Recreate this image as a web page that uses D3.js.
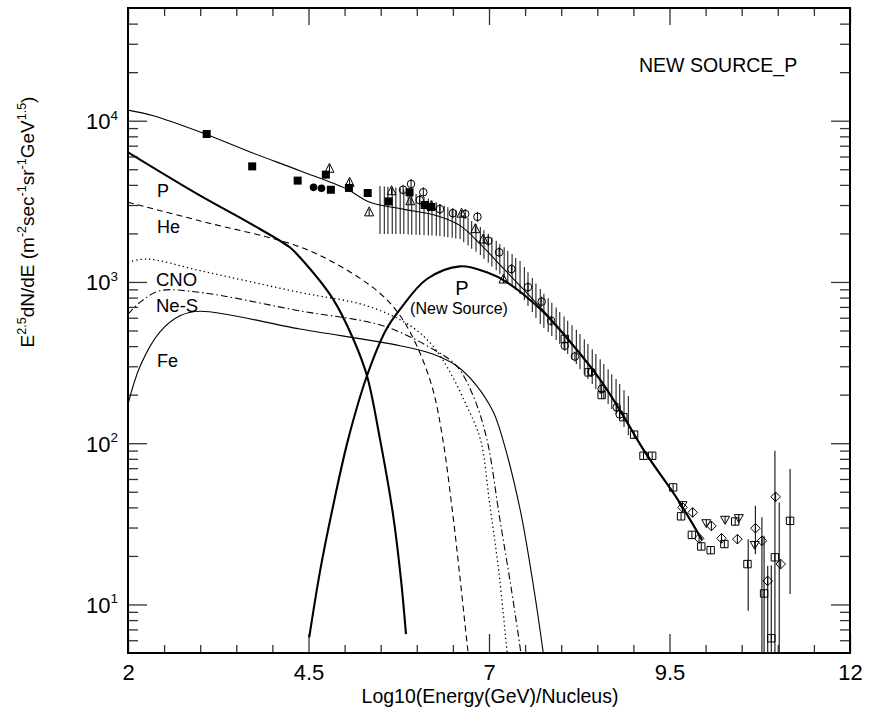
<!DOCTYPE html>
<html><head><meta charset="utf-8">
<script src="https://cdn.jsdelivr.net/npm/d3@7"></script>
<style>
body{margin:0;background:#fff;}
svg{display:block;font-family:"Liberation Sans",Arial,Helvetica,sans-serif;}
</style></head><body>
<svg id="chart" width="872" height="728"></svg>
<script>
// ---------- data (x = log10 E [GeV/nucleus], y = E^2.5 dN/dE) ----------
const curveTotal = [[2.0,11640],[2.35,10740],[3.0,8510],[3.69,6400],[4.38,4900],[5.03,3770],[5.35,3120],[5.81,2830],[6.28,2575],[6.6,2235],[6.88,1718],[7.21,1200],[7.71,698],[8.16,412],[8.54,250],[8.81,163],[9.16,89],[9.6,46],[9.95,25.4]];
const curveP = [[2.0,6370],[3.0,3430],[3.69,2310],[4.24,1641],[4.38,1422],[4.84,783],[5.12,443],[5.31,262],[5.49,106],[5.67,36.3],[5.78,14.4],[5.85,6.55]];
const curveHe = [[2.0,3120],[3.0,2390],[4.38,1650],[5.08,1150],[5.53,820],[5.77,617],[6.0,402],[6.22,217],[6.36,106],[6.49,39],[6.6,14.4],[6.71,5.06],[6.74,3.96]];
const curveCNO = [[2.0,1324],[2.26,1387],[3.0,1175],[4.38,861],[5.31,711],[5.91,535],[6.22,402],[6.46,276],[6.69,171],[6.88,106],[7.01,41.9],[7.14,15.4],[7.25,5.06],[7.28,3.69]];
const curveNeS = [[2.0,632],[2.17,750],[2.44,881],[3.0,861],[4.38,662],[5.53,535],[6.22,384],[6.55,302],[6.78,197],[6.97,106],[7.15,33.8],[7.31,12.4],[7.44,5.06],[7.47,3.96]];
const curveFe = [[2.0,175],[2.17,302],[2.44,489],[2.72,617],[3.0,658],[4.38,511],[5.77,402],[6.22,357],[6.55,302],[6.83,227],[7.06,156],[7.19,106],[7.43,39],[7.6,14.4],[7.75,5.06],[7.78,3.96]];
const curveNewP = [[4.51,6.25],[4.66,16.1],[4.84,40.7],[5.05,106],[5.31,262],[5.58,511],[5.77,679],[6.14,1043],[6.6,1250],[6.97,1148],[7.25,995],[7.71,679],[8.16,406],[8.54,247],[8.81,161],[9.16,88],[9.6,45.7],[9.95,25.1]];

// shaded band of vertical bars
const bandX = [5.49,5.55,5.60,5.66,5.71,5.77,5.82,5.88,5.93,5.99,6.04,6.10,6.16,6.21,6.27,6.32,6.38,6.43,6.49,6.54,6.60,6.65,6.71,6.76,6.82,6.88,6.93,6.99,7.04,7.10,7.15,7.21,7.26,7.32,7.37,7.43,7.49,7.54,7.60,7.65,7.71,7.76,7.82,7.87,7.93,7.98,8.04,8.09,8.15,8.21,8.26,8.32,8.37,8.43,8.48,8.54,8.59,8.65,8.70,8.76,8.81,8.87,8.93];
const bandHigh = [3930,3910,3890,3870,3850,3820,3750,3670,3600,3530,3460,3370,3290,3200,3120,3040,2970,2910,2840,2780,2710,2600,2490,2390,2290,2190,2090,1990,1890,1800,1720,1640,1560,1490,1410,1350,1240,1150,1060,979,904,846,792,742,695,651,611,574,539,506,475,442,412,383,357,332,310,288,268,250,233,213,196];
const bandLow = [1980,1980,1980,1980,1980,1980,1980,1970,1965,1960,1954,1949,1943,1938,1932,1926,1910,1894,1878,1861,1845,1763,1684,1609,1537,1469,1391,1318,1248,1182,1120,1057,999,943,891,841,772,709,651,597,548,518,489,462,436,412,383,357,332,310,288,268,250,233,217,202,188,175,163,152,141,126,112];

// measured points
const filledSquares = [[3.09,8270],[3.72,5210],[4.35,4250],[4.74,4630],[4.81,3730],[5.06,3830],[5.32,3560],[5.61,3160],[5.90,3600],[6.11,3000],[6.20,2915]];
const filledCircles = [[4.57,3860],[4.68,3810]];
const openTriangles = [[4.79,5070],[5.07,4150],[5.34,2720],[5.65,3680],[5.91,3190],[6.20,2970],[6.62,2670],[6.81,2140],[6.92,1845],[7.20,1043]];
const openCircles = [[5.81,3730],[5.92,4050],[6.09,3600],[6.04,3220],[6.32,2830],[6.50,2670],[6.67,2640],[6.84,2535],[6.99,1800],[7.14,1527],[7.31,1202],[7.54,929],[7.73,755],[7.86,574],[8.05,402],[8.19,345],[8.42,277],[8.56,217],[8.77,167],[8.81,151]];
const openSquares = [[8.05,443],[8.38,275],[8.56,199],[8.86,145],[9.01,113],[9.14,83.6],[9.26,83.6],[9.55,53.2],[9.66,35.2],[9.81,27.0],[9.94,22.9],[10.07,21.7],[10.26,23.7],[10.41,32.7],[10.58,17.8],[10.81,11.7],[10.91,6.17],[10.96,19.6],[11.17,33.0]];
const openDiamonds = [[9.68,40.0],[9.82,37.2],[10.08,30.7],[9.91,25.7],[10.22,25.7],[10.44,25.4],[10.69,29.7],[10.78,24.8],[10.86,14.0],[10.97,46.5],[11.04,17.8]];
const downTriangles = [[9.68,41.3],[10.01,31.9],[10.27,33.5],[10.46,34.3],[10.68,23.4]];
// error bars [x, low, high]
const errorBars = [[10.59,9.13,25.4],[10.69,20.5,40.9],[10.78,1,34.7],[10.81,1,26.7],[10.86,1,17.4],[10.91,1,17.5],[10.96,1,89.7],[11.02,1,42.9],[11.17,11.6,69.1]];

// axes
const xMajor = [2,4.5,7,9.5,12];
const xMinor = [2.5,3,3.5,4,5,5.5,6,6.5,7.5,8,8.5,9,10,10.5,11,11.5];
const yMajor = [10,100,1000,10000];
const yExp = ["1","2","3","4"];
const yMinor = [6,7,8,9,20,30,40,50,60,70,80,90,200,300,400,500,600,700,800,900,2000,3000,4000,5000,6000,7000,8000,9000,20000,30000,40000];

// ---------- drawing ----------
const svg = d3.select("#chart");
const L=128, R=850, T=8, B=653;
const x = d3.scaleLinear().domain([2,12]).range([L,R]);
const y = d3.scaleLog().domain([5,50000]).range([B,T]);

svg.append("defs").append("clipPath").attr("id","clip")
  .append("rect").attr("x",L).attr("y",T).attr("width",R-L).attr("height",B-T);

// ticks
function tickAxis(axis, tr){
  const g = svg.append("g").attr("transform",tr).call(axis);
  g.select(".domain").remove();
  g.selectAll(".tick line").attr("stroke","#333").attr("stroke-width",1.3);
  return g;
}
tickAxis(d3.axisBottom(x).tickValues(xMinor).tickSize(-8).tickFormat(""),`translate(0,${B})`);
tickAxis(d3.axisTop(x).tickValues(xMinor).tickSize(-8).tickFormat(""),`translate(0,${T})`);
tickAxis(d3.axisTop(x).tickValues(xMajor).tickSize(-17).tickFormat(""),`translate(0,${T})`);
const xb = tickAxis(d3.axisBottom(x).tickValues(xMajor).tickSize(-19).tickPadding(11).tickFormat(d=>String(d)),`translate(0,${B})`);
xb.selectAll("text").attr("fill","#000").style("font-size","22px").style("font-family","'Liberation Sans',Arial,sans-serif");
tickAxis(d3.axisLeft(y).tickValues(yMinor).tickSize(-10).tickFormat(""),`translate(${L},0)`);
tickAxis(d3.axisLeft(y).tickValues(yMajor).tickSize(-19).tickFormat(""),`translate(${L},0)`);
tickAxis(d3.axisRight(y).tickValues(yMinor).tickSize(-10).tickFormat(""),`translate(${R},0)`);
tickAxis(d3.axisRight(y).tickValues(yMajor).tickSize(-19).tickFormat(""),`translate(${R},0)`);

yMajor.forEach((v,i)=>{
  const t = svg.append("text").attr("x",118).attr("y",y(v)+8.5)
    .attr("text-anchor","end").style("font-size","22px");
  t.append("tspan").text("10");
  t.append("tspan").attr("dy",-9.5).style("font-size","13.5px").text(yExp[i]);
});

// frame
svg.append("rect").attr("x",L).attr("y",T).attr("width",R-L).attr("height",B-T)
  .attr("fill","none").attr("stroke","#000").attr("stroke-width",2);

const plot = svg.append("g").attr("clip-path","url(#clip)");

// band
plot.append("g").selectAll("line").data(bandX).join("line")
  .attr("x1",d=>x(d)).attr("x2",d=>x(d))
  .attr("y1",(d,i)=>y(bandHigh[i])).attr("y2",(d,i)=>y(bandLow[i]))
  .attr("stroke","#222").attr("stroke-width",1.1);

// curves
const line = d3.line().x(d=>x(d[0])).y(d=>y(d[1])).curve(d3.curveCatmullRom.alpha(0.5));
function curve(data, w, dash){
  plot.append("path").datum(data).attr("d",line).attr("fill","none")
    .attr("stroke","#000").attr("stroke-width",w).attr("stroke-dasharray",dash||null);
}
curve(curveFe,1.1);
curve(curveNeS,1.1,"7,3,1.5,3");
curve(curveCNO,1.3,"1.3,3");
curve(curveHe,1.1,"6,4");
curve(curveP,2.1);
curve(curveNewP,2.1);
curve(curveTotal,1.1);

// error bars
plot.append("g").selectAll("line").data(errorBars).join("line")
  .attr("x1",d=>x(d[0])).attr("x2",d=>x(d[0]))
  .attr("y1",d=>y(d[2])).attr("y2",d=>y(d[1]))
  .attr("stroke","#222").attr("stroke-width",1.2);

// markers
const mk = plot.append("g");
mk.selectAll(".fs").data(filledSquares).join("rect")
  .attr("x",d=>x(d[0])-4).attr("y",d=>y(d[1])-4).attr("width",8).attr("height",8).attr("fill","#000");
mk.selectAll(".fc").data(filledCircles).join("circle")
  .attr("cx",d=>x(d[0])).attr("cy",d=>y(d[1])).attr("r",3.8).attr("fill","#000");
function openMarker(data, pathFn){
  mk.append("g").selectAll("path").data(data).join("path")
    .attr("d",d=>pathFn(x(d[0]),y(d[1]))).attr("fill","none")
    .attr("stroke","#000").attr("stroke-width",1);
}
openMarker(openTriangles,(cx,cy)=>`M${cx-4.5},${cy+4}L${cx},${cy-5}L${cx+4.5},${cy+4}Z M${cx},${cy-3}V${cy+4}`);
openMarker(openCircles,(cx,cy)=>`M${cx+3.8},${cy}A3.8,3.8 0 1 1 ${cx-3.8},${cy}A3.8,3.8 0 1 1 ${cx+3.8},${cy} M${cx},${cy-5}V${cy+5}`);
openMarker(openSquares,(cx,cy)=>`M${cx-3.7},${cy-3.7}H${cx+3.7}V${cy+3.7}H${cx-3.7}Z M${cx},${cy-3.7}V${cy+3.7}`);
openMarker(openDiamonds,(cx,cy)=>`M${cx},${cy-4.8}L${cx+4.8},${cy}L${cx},${cy+4.8}L${cx-4.8},${cy}Z M${cx},${cy-4.8}V${cy+4.8}`);
openMarker(downTriangles,(cx,cy)=>`M${cx-4.5},${cy-3.5}L${cx+4.5},${cy-3.5}L${cx},${cy+4.5}Z M${cx},${cy-3.5}V${cy+3}`);

// labels
function label(txt,xp,yp,size,anchor){
  svg.append("text").attr("x",xp).attr("y",yp).attr("text-anchor",anchor||"start")
    .style("font-size",size+"px").attr("fill","#000").text(txt);
}
label("P",157,197,18);
label("He",157,233,18);
label("CNO",156,286,18.5);
label("Ne-S",156,312,18.5);
label("Fe",157,367,18);
label("P",462,295,20,"middle");
label("(New Source)",459,314,16,"middle");
label("NEW SOURCE_P",639,72,19.5);
label("Log10(Energy(GeV)/Nucleus)",490,703,19.5,"middle");

// y title
const yt = svg.append("text").attr("transform","translate(34,222) rotate(-90)")
  .attr("text-anchor","middle").style("font-size","19px");
const parts = [["E",0],["2.5",1],["dN/dE (m",0],["-2",1],["sec",0],["-1",1],["sr",0],["-1",1],["GeV",0],["1.5",1],[")",0]];
let sup=false;
parts.forEach(([s,isSup])=>{
  const ts = yt.append("tspan").text(s);
  if(isSup && !sup){ ts.attr("dy",-8).style("font-size","12.5px"); sup=true; }
  else if(isSup){ ts.style("font-size","12.5px"); }
  else if(!isSup && sup){ ts.attr("dy",8); sup=false; }
});
</script>
</body></html>
